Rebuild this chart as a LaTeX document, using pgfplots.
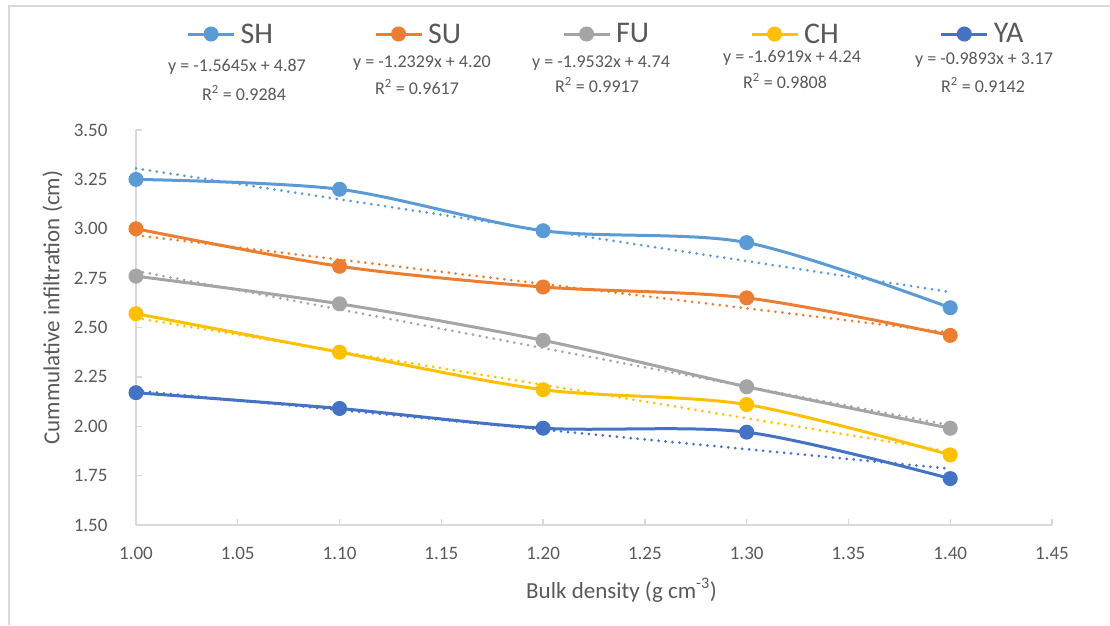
\documentclass[border=0pt]{standalone}
\usepackage{pgfplots}
\pgfplotsset{compat=1.18}
\usepackage{fontspec}
\setmainfont{Carlito}
\definecolor{cSH}{HTML}{5B9BD5}
\definecolor{cSU}{HTML}{ED7D31}
\definecolor{cFU}{HTML}{A5A5A5}
\definecolor{cCH}{HTML}{FFC000}
\definecolor{cYA}{HTML}{4472C4}
\definecolor{txt}{HTML}{595959}
\definecolor{axl}{HTML}{D9D9D9}
\begin{document}
\begin{tikzpicture}[x=1pt,y=1pt]
\path[use as bounding box] (0,0) rectangle (1110,625);
\draw[axl, line width=2pt] (9,0) -- (9,619) -- (1110,619);
\begin{axis}[
  at={(136pt,100pt)}, anchor=south west,
  scale only axis, width=916pt, height=395pt,
  xmin=1.0, xmax=1.45, ymin=1.5, ymax=3.5,
  xtick={1.00,1.05,...,1.46}, ytick={1.50,1.75,...,3.51},
  axis x line*=bottom, axis y line*=left,
  axis line style={axl, line width=1.3pt},
  tick align=inside, major tick length=6pt,
  tick style={axl, line width=1.3pt},
  /pgf/number format/.cd, fixed, fixed zerofill, precision=2, assume math mode=true,
  /pgfplots/.cd,
  ticklabel style={font=\fontsize{19}{22}\selectfont, text=txt},
  xticklabel style={yshift=-19pt},
  yticklabel style={xshift=-25pt},
  xlabel={Bulk density (g cm\textsuperscript{-3})},
  ylabel={Cummulative infiltration (cm)},
  label style={font=\fontsize{23}{26}\selectfont, text=txt},
  xlabel style={at={(axis description cs:0.53,0)}, anchor=north, yshift=-50pt},
  ylabel style={at={(axis description cs:0,0.55)}, anchor=south, yshift=70pt},
  legend columns=5,
  legend style={draw=none, fill=none, inner sep=0pt, at={(0.055,1.243)}, anchor=west,
    font=\fontsize{30}{32}\selectfont, text=txt,
    /tikz/every odd column/.append style={column sep=3pt},
    /tikz/every even column/.append style={column sep=99pt}},
  legend cell align=left,
  legend image code/.code={\draw[#1, mark repeat=2, mark phase=2, sharp plot] plot coordinates {(0pt,0pt) (23pt,0pt) (46pt,0pt)};},
  every axis plot/.append style={line width=3pt},
  clip=false,
]
% trendlines (no legend)
\addplot[cSH, forget plot, dash pattern=on 0pt off 7pt, line cap=round, line width=3pt] coordinates {(1.0,3.3055) (1.4,2.6797)};
\addplot[cSU, forget plot, dash pattern=on 0pt off 7pt, line cap=round, line width=3pt] coordinates {(1.0,2.9671) (1.4,2.4739)};
\addplot[cFU, forget plot, dash pattern=on 0pt off 7pt, line cap=round, line width=3pt] coordinates {(1.0,2.7868) (1.4,2.0055)};
\addplot[cCH, forget plot, dash pattern=on 0pt off 7pt, line cap=round, line width=3pt] coordinates {(1.0,2.5481) (1.4,1.8713)};
\addplot[cYA, forget plot, dash pattern=on 0pt off 7pt, line cap=round, line width=3pt] coordinates {(1.0,2.1807) (1.4,1.7850)};
% data
\addplot[cSH, smooth, tension=0.5, mark=*, mark size=6pt] coordinates {(1.0,3.25) (1.1,3.20) (1.2,2.99) (1.3,2.93) (1.4,2.60)};
\addlegendentry{SH}
\addplot[cSU, smooth, tension=0.5, mark=*, mark size=6pt] coordinates {(1.0,3.00) (1.1,2.81) (1.2,2.705) (1.3,2.65) (1.4,2.46)};
\addlegendentry{SU}
\addplot[cFU, smooth, tension=0.5, mark=*, mark size=6pt] coordinates {(1.0,2.76) (1.1,2.62) (1.2,2.435) (1.3,2.20) (1.4,1.99)};
\addlegendentry{FU}
\addplot[cCH, smooth, tension=0.5, mark=*, mark size=6pt] coordinates {(1.0,2.57) (1.1,2.375) (1.2,2.185) (1.3,2.11) (1.4,1.855)};
\addlegendentry{CH}
\addplot[cYA, smooth, tension=0.5, mark=*, mark size=6pt] coordinates {(1.0,2.17) (1.1,2.09) (1.2,1.99) (1.3,1.97) (1.4,1.735)};
\addlegendentry{YA}
\end{axis}
\begin{scope}[every node/.style={text=txt, font=\fontsize{18}{20}\selectfont, inner sep=0pt}]
\node at (237,558) {y = -1.5645x + 4.87};
\node at (244,532) {R\textsuperscript{2} = 0.9284};
\node at (422,562) {y = -1.2329x + 4.20};
\node at (417,538) {R\textsuperscript{2} = 0.9617};
\node at (601,562) {y = -1.9532x + 4.74};
\node at (597,540) {R\textsuperscript{2} = 0.9917};
\node at (792,567) {y = -1.6919x + 4.24};
\node at (785,544) {R\textsuperscript{2} = 0.9808};
\node at (984,565) {y = -0.9893x + 3.17};
\node at (983,540) {R\textsuperscript{2} = 0.9142};
\end{scope}
\end{tikzpicture}
\end{document}
